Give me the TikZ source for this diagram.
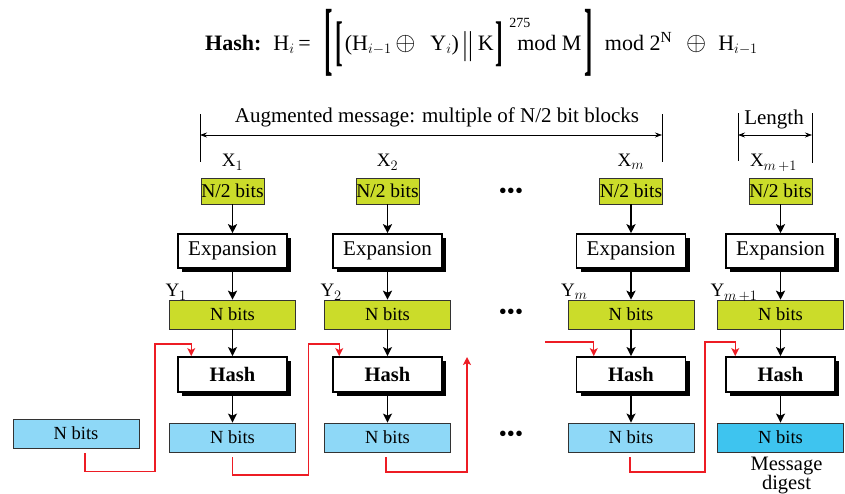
\documentclass[tikz,border=0pt]{standalone}
\usepackage{amsmath}
\usepackage{graphicx}
\usepackage{fontspec}
\setmainfont{Liberation Serif}
\usetikzlibrary{arrows.meta, positioning, shadows, calc}
\definecolor{halfcol}{HTML}{CBDC2A}
\definecolor{blockcol}{HTML}{8ED8F7}
\definecolor{digestcol}{HTML}{3EC4EF}
\definecolor{chaincol}{HTML}{ED1C24}
% tall brackets of the formula: #1 x-scale, #2 y-scale, #3 lowering, #4 bracket
\newcommand{\tallbrk}[4]{\raisebox{-#3}{\scalebox{#1}[#2]{\bfseries #4}}}
\newcommand{\bigxor}{\scalebox{1.25}{$\oplus$}}

\begin{document}
\begin{tikzpicture}[x=1pt, y=-1pt,
  half/.style={draw=black!80, fill=halfcol, minimum width=63pt, minimum height=26pt,
    inner sep=0pt, font=\fontsize{19.5}{20}\selectfont},
  proc/.style={draw, line width=1.5pt, fill=white, minimum width=109pt, minimum height=34pt,
    inner sep=0pt, font=\fontsize{21}{22}\selectfont,
    drop shadow={shadow xshift=4pt, shadow yshift=-4pt, fill=black, opacity=1}},
  hashbox/.style={proc, minimum height=35pt, font=\bfseries\fontsize{20.5}{22}\selectfont},
  nblk/.style={draw=black!80, minimum width=126pt, minimum height=29pt, inner sep=0pt,
    font=\fontsize{18.5}{20}\selectfont},
  lbl/.style={inner sep=0pt, font=\fontsize{19}{20}\selectfont},
  conn/.style={-{Stealth[length=9pt, width=9pt, inset=2pt]}, line width=1.6pt},
  chain/.style={-{Stealth[length=8pt, width=8pt, inset=2pt]}, draw=chaincol, line width=1.4pt},
  dim/.style={{Stealth[length=7pt, width=5pt]}-{Stealth[length=7pt, width=5pt]}, line width=0.7pt},
  tick/.style={line width=1pt},
]
\useasboundingbox (0,0) rectangle (845,493);

% Formula on top
\node[inner sep=0pt, anchor=base, font=\fontsize{22}{24}\selectfont] (formula) at (481.5,50)
  {\textbf{Hash:}\hspace{12pt}H$_i$\,=\hspace{14pt}\tallbrk{1.15}{3.68}{15pt}{[}\kern2pt%
   \tallbrk{1.05}{2.47}{9pt}{[}\kern2pt(H$_{i-1}$\,\bigxor\hspace{15pt}Y$_i$)\kern4pt%
   \raisebox{-4pt}{\scalebox{1}[1.5]{|\kern1pt|}}\kern5pt K\kern2pt\tallbrk{1.05}{2.47}{9pt}{]}%
   \rlap{\kern6pt\raisebox{23pt}{\fontsize{14}{14}\selectfont 275}}\kern14pt mod M\kern3pt%
   \tallbrk{1.15}{3.68}{15pt}{]}\hspace{12pt}mod 2$^{\text{N}}$\hspace{14pt}\bigxor\hspace{12pt}H$_{i-1}$};

% Message span and length marks
\coordinate (augTa) at (200,114);
\coordinate (augTb) at (200,162);
\coordinate (augTc) at (662,114);
\coordinate (augTd) at (662,162);
\coordinate (augA) at (200,135);
\coordinate (augB) at (662,135);
\draw[tick] (augTa) -- (augTb);
\draw[tick] (augTc) -- (augTd);
\draw[dim] (augA) -- (augB);
\node[lbl, font=\fontsize{21}{22}\selectfont] (aug) at (437,117) {Augmented message: multiple of N/2 bit blocks};

\coordinate (lenTa) at (738,113);
\coordinate (lenTb) at (738,161);
\coordinate (lenTc) at (812,113);
\coordinate (lenTd) at (812,163);
\coordinate (lenA) at (738,135);
\coordinate (lenB) at (812,135);
\draw[tick] (lenTa) -- (lenTb);
\draw[tick] (lenTc) -- (lenTd);
\draw[dim] (lenA) -- (lenB);
\node[lbl, font=\fontsize{21}{22}\selectfont] (len) at (774,119) {Length};

% Column 1
\node[half] (half1) at (232.5,191) {N/2 bits};
\node[proc, below=29pt of half1] (exp1) {Expansion};
\node[nblk, fill=halfcol, below=31pt of exp1] (y1) {N bits};
\node[hashbox, below=27pt of y1] (hash1) {Hash};
\node[nblk, fill=blockcol, below=30pt of hash1] (h1) {N bits};

% Column 2
\node[half] (half2) at (387.5,191) {N/2 bits};
\node[proc, below=29pt of half2] (exp2) {Expansion};
\node[nblk, fill=halfcol, below=31pt of exp2] (y2) {N bits};
\node[hashbox, below=27pt of y2] (hash2) {Hash};
\node[nblk, fill=blockcol, below=30pt of hash2] (h2) {N bits};

% Column m
\node[half] (half3) at (631,191) {N/2 bits};
\node[proc, below=29pt of half3] (exp3) {Expansion};
\node[nblk, fill=halfcol, below=31pt of exp3] (y3) {N bits};
\node[hashbox, below=27pt of y3] (hash3) {Hash};
\node[nblk, fill=blockcol, below=30pt of hash3] (h3) {N bits};

% Column m+1 (length block)
\node[half] (half4) at (780.5,191) {N/2 bits};
\node[proc, below=29pt of half4] (exp4) {Expansion};
\node[nblk, fill=halfcol, below=31pt of exp4] (y4) {N bits};
\node[hashbox, below=27pt of y4] (hash4) {Hash};
\node[nblk, fill=digestcol, below=30pt of hash4] (h4) {N bits};
\node[lbl, align=center, below=5pt of h4, xshift=6pt, font=\fontsize{20.5}{19}\selectfont] (digest) {Message\\digest};

% Initial value
\node[nblk, fill=blockcol] (h0) at (76,433.5) {N bits};

% Block labels
\node[lbl, anchor=base] (xlab1) at ([yshift=11pt]half1.north) {X$_1$};
\node[lbl, anchor=base] (xlab2) at ([yshift=11pt]half2.north) {X$_2$};
\node[lbl, anchor=base] (xlab3) at ([yshift=11pt]half3.north) {X$_m$};
\node[lbl, anchor=base] (xlab4) at ([yshift=11pt,xshift=-7pt]half4.north) {X$_{m\,+1}$};
\node[lbl, anchor=base west] (ylab1) at ([xshift=-4pt,yshift=3pt]y1.north west) {Y$_1$};
\node[lbl, anchor=base west] (ylab2) at ([xshift=-4pt,yshift=3pt]y2.north west) {Y$_2$};
\node[lbl, anchor=base west] (ylab3) at ([xshift=-7pt,yshift=3pt]y3.north west) {Y$_m$};
\node[lbl, anchor=base west] (ylab4) at ([xshift=-7pt,yshift=3pt]y4.north west) {Y$_{m\,+1}$};

% Skipped blocks
\node[lbl, font=\fontsize{23}{24}\selectfont] (dots1) at (511,193) {\textbullet\textbullet\textbullet};
\node[lbl, font=\fontsize{23}{24}\selectfont] (dots2) at (511,314) {\textbullet\textbullet\textbullet};
\node[lbl, font=\fontsize{23}{24}\selectfont] (dots3) at (511,436) {\textbullet\textbullet\textbullet};

% Data flow down each column
\draw[conn] (half1) -- (exp1);
\draw[conn] (exp1) -- (y1);
\draw[conn] (y1) -- (hash1);
\draw[conn] (hash1) -- (h1);
\draw[conn] (half2) -- (exp2);
\draw[conn] (exp2) -- (y2);
\draw[conn] (y2) -- (hash2);
\draw[conn] (hash2) -- (h2);
\draw[conn] (half3) -- (exp3);
\draw[conn] (exp3) -- (y3);
\draw[conn] (y3) -- (hash3);
\draw[conn] (hash3) -- (h3);
\draw[conn] (half4) -- (exp4);
\draw[conn] (exp4) -- (y4);
\draw[conn] (y4) -- (hash4);
\draw[conn] (hash4) -- (h4);

% Chaining of the hash values
\coordinate (gap3) at (467,357);
\coordinate (gap4) at (545,342);
\draw[chain] ([xshift=9pt,yshift=-5pt]h0.south) -- ++(0,18) -- ++(70,0)
  |- ([xshift=14pt,yshift=12pt]hash1.north west) -- ([xshift=14pt]hash1.north west);
\draw[chain] ([yshift=-5pt]h1.south) -- ++(0,18) -- ++(76,0)
  |- ([xshift=7pt,yshift=12pt]hash2.north west) -- ([xshift=7pt]hash2.north west);
\draw[chain] ([xshift=-1.5pt,yshift=-5pt]h2.south) -- ++(0,15) -| (gap3);
\draw[chain] (gap4) -| ([xshift=18pt]hash3.north west);
\draw[chain] ([xshift=-1pt,yshift=-5pt]h3.south) -- ++(0,15) -- ++(75,0)
  |- ([xshift=10pt,yshift=14pt]hash4.north west) -- ([xshift=10pt]hash4.north west);

\end{tikzpicture}
\end{document}
